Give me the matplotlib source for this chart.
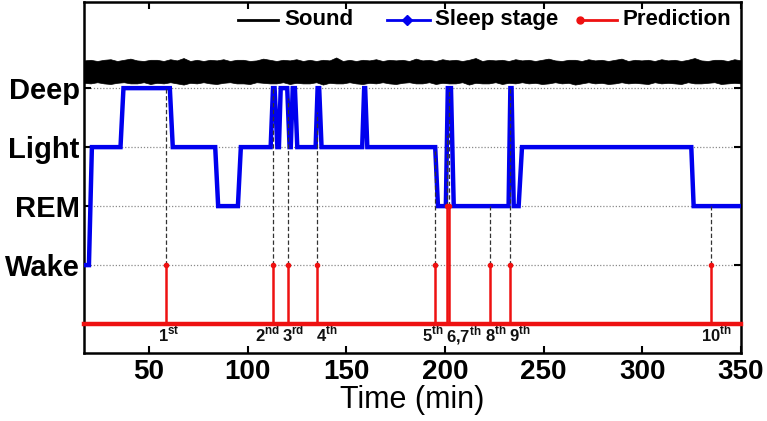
import numpy as np
import matplotlib
matplotlib.use("Agg")
import matplotlib.pyplot as plt

plt.rcParams['font.family'] = ['Liberation Sans', 'DejaVu Sans']
plt.rcParams['mathtext.fontset'] = 'custom'
plt.rcParams['mathtext.rm'] = 'Liberation Sans'
plt.rcParams['mathtext.bf'] = 'Liberation Sans:bold'

# ---------------- data ----------------
stage_names = ["Wake", "REM", "Light", "Deep"]
stage_levels = [1, 2, 3, 4]

stage_t = [17, 19.5, 21, 35.5, 37, 60.5, 62, 83.5, 85, 95, 96.5,
           111.6, 112.8, 113.6, 115, 115.8, 116.7, 120, 121.2, 121.8, 122.8, 123.9, 125.1,
           134.4, 135.4, 136.2, 137.4, 158, 159, 159.5, 160.6,
           195, 196.4, 200.4, 201.4, 203, 204.4, 232.2, 233.1, 233.7, 234.8, 237.3, 239,
           324.8, 326, 350]
stage_v = [1, 1, 3, 3, 4, 4, 3, 3, 2, 2, 3,
           3, 4, 4, 3, 3, 4, 4, 3, 3, 4, 4, 3,
           3, 4, 4, 3, 3, 4, 4, 3,
           3, 2, 2, 4, 4, 2, 2, 4, 4, 2, 2, 3,
           3, 2, 2]

pred_t = [58.5, 112.8, 120.2, 135.0, 195.1, 201.0, 202.2, 222.7, 233.1, 334.7]
pred_v = [1, 1, 1, 1, 1, 2, 2, 1, 1, 1]

label_num = ["1", "2", "3", "4", "5", "6,7", "8", "9", "10"]
label_suf = ["st", "nd", "rd", "th", "th", "th", "th", "th", "th"]
label_x = [60.1, 110.0, 123.2, 140.1, 194.0, 209.3, 225.6, 237.8, 337.6]

sound_upper = [4.47, 4.48, 4.46, 4.48, 4.49, 4.46, 4.48, 4.50, 4.47, 4.46, 4.48, 4.48, 4.46, 4.49, 4.47,
               4.51, 4.46, 4.48, 4.46, 4.48, 4.47, 4.49, 4.46, 4.48, 4.48, 4.46, 4.47, 4.50, 4.48, 4.46,
               4.48, 4.47, 4.49, 4.46, 4.48, 4.46, 4.48, 4.47, 4.52, 4.46, 4.48, 4.46, 4.48, 4.47, 4.49,
               4.46, 4.48, 4.47, 4.48, 4.46, 4.50, 4.47, 4.48, 4.46, 4.49, 4.47, 4.48, 4.46, 4.48, 4.51,
               4.46, 4.48, 4.47, 4.48, 4.46, 4.49, 4.47, 4.48, 4.46, 4.48, 4.50, 4.47, 4.46, 4.48, 4.48,
               4.46, 4.49, 4.47, 4.48, 4.46, 4.48, 4.50, 4.46, 4.48, 4.47, 4.48, 4.46, 4.49, 4.47, 4.48,
               4.46, 4.48, 4.51, 4.47, 4.46, 4.48, 4.48, 4.46, 4.49, 4.47]
sound_lower = [4.09, 4.08, 4.10, 4.08, 4.07, 4.09, 4.10, 4.08, 4.08, 4.10, 4.07, 4.09, 4.08, 4.10, 4.08,
               4.06, 4.09, 4.08, 4.10, 4.08, 4.07, 4.09, 4.10, 4.08, 4.08, 4.07, 4.10, 4.09, 4.08, 4.08,
               4.10, 4.07, 4.09, 4.08, 4.08, 4.10, 4.06, 4.09, 4.08, 4.08, 4.10, 4.08, 4.07, 4.09, 4.08,
               4.10, 4.08, 4.07, 4.09, 4.10, 4.08, 4.08, 4.10, 4.07, 4.09, 4.08, 4.08, 4.10, 4.06, 4.09,
               4.08, 4.08, 4.10, 4.07, 4.09, 4.08, 4.10, 4.08, 4.09, 4.07, 4.08, 4.10, 4.08, 4.09, 4.06,
               4.08, 4.10, 4.08, 4.09, 4.07, 4.08, 4.10, 4.08, 4.09, 4.08, 4.07, 4.10, 4.08, 4.09, 4.08,
               4.07, 4.10, 4.08, 4.08, 4.09, 4.10, 4.07, 4.08, 4.09, 4.08]
sound_t0, sound_t1 = 17, 350

x_ticks = [50, 100, 150, 200, 250, 300, 350]

# ---------------- figure ----------------
W, H = 767, 421
fig = plt.figure(figsize=(W / 100, H / 100), dpi=100)
ax = fig.add_axes([84 / W, 1 - 353 / H, 657 / W, 351 / H])
ax.set_xlim(17, 350)
ax.set_ylim(-0.49, 5.46)

BLUE = "#0000ee"
RED = "#ee1111"

# dotted grid at stage levels
for lv in stage_levels:
    ax.axhline(lv, color="#8a8a8a", lw=0.9, ls=(0, (1, 1.5)), zorder=1)

# sound band
st = np.linspace(sound_t0, sound_t1, len(sound_upper))
ax.fill_between(st, sound_lower, sound_upper, color="black", lw=0.5, edgecolor="black", zorder=2)

# dashed links from prediction to stage
stage_at_pred = np.interp(pred_t, stage_t, stage_v)
ax.vlines(pred_t, pred_v, stage_at_pred, colors="#333333", lw=0.9, linestyles=(0, (3.5, 2)), zorder=4)

# sleep stage
ax.plot(stage_t, stage_v, color=BLUE, lw=3.2, solid_joinstyle="miter", zorder=3)

# prediction
ax.plot([17, 350], [0, 0], color=RED, lw=3.2, zorder=5, clip_on=False)
ax.vlines(pred_t, 0, pred_v, colors=RED, lw=1.8, zorder=5)
ax.plot(pred_t, pred_v, "o", color=RED, ms=3, zorder=6)

# event labels
for n, s, x in zip(label_num, label_suf, label_x):
    ax.text(x, -0.30, n + r"$^{\mathbf{" + s + "}}$", ha="center", va="baseline",
            fontsize=12, fontweight="bold", color="#111111")

# axes styling
ax.set_xticks(x_ticks)
ax.set_xticklabels([str(v) for v in x_ticks], fontsize=20, fontweight="bold")
ax.set_yticks(stage_levels)
ax.set_yticklabels(stage_names, fontsize=21, fontweight="bold")
ax.tick_params(axis="both", direction="in", length=5, width=1.5, top=True, right=True)
ax.tick_params(axis="x", pad=4)
ax.tick_params(axis="y", pad=3)
for sp in ax.spines.values():
    sp.set_linewidth(1.8)
ax.set_xlabel("Time (min)", fontsize=22, labelpad=0)

# manual legend
ly = 0.949
tr = ax.transAxes
ax.plot([0.234, 0.295], [ly, ly], color="black", lw=2, transform=tr, clip_on=False, zorder=7)
ax.text(0.305, ly, "Sound", transform=tr, va="center", ha="left", fontsize=16, fontweight="bold")
ax.plot([0.461, 0.526], [ly, ly], color=BLUE, lw=2, transform=tr, clip_on=False, zorder=7)
ax.plot([0.492], [ly], marker="D", color=BLUE, ms=5, transform=tr, clip_on=False, zorder=7)
ax.text(0.534, ly, "Sleep stage", transform=tr, va="center", ha="left", fontsize=16, fontweight="bold")
ax.plot([0.755, 0.812], [ly, ly], color=RED, lw=2, transform=tr, clip_on=False, zorder=7)
ax.plot([0.755], [ly], marker="o", color=RED, ms=5, transform=tr, clip_on=False, zorder=7)
ax.text(0.820, ly, "Prediction", transform=tr, va="center", ha="left", fontsize=16, fontweight="bold")

fig.savefig("out.png", dpi=100)
